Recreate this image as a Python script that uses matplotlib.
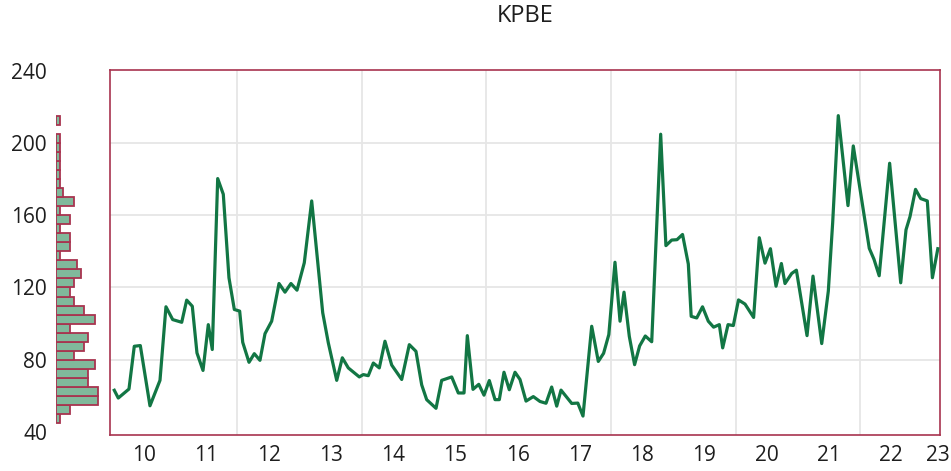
import matplotlib
matplotlib.use("Agg")
import matplotlib.pyplot as plt

# ---- data -----------------------------------------------------------
title = "KPBE"

dates = [2010.021, 2010.085, 2010.257, 2010.342, 2010.439, 2010.594, 2010.755, 2010.851,
         2010.959, 2011.104, 2011.184, 2011.274, 2011.349, 2011.446, 2011.531, 2011.595,
         2011.682, 2011.772, 2011.863, 2011.949, 2012.035, 2012.084, 2012.185, 2012.270,
         2012.361, 2012.442, 2012.549, 2012.667, 2012.763, 2012.859, 2012.956, 2013.073,
         2013.192, 2013.369, 2013.459, 2013.594, 2013.684, 2013.780, 2013.957, 2014.021,
         2014.101, 2014.182, 2014.278, 2014.369, 2014.477, 2014.638, 2014.760, 2014.867,
         2014.959, 2015.039, 2015.189, 2015.280, 2015.441, 2015.547, 2015.639, 2015.692,
         2015.783, 2015.876, 2015.960, 2016.045, 2016.137, 2016.206, 2016.281, 2016.366,
         2016.458, 2016.538, 2016.635, 2016.752, 2016.859, 2016.956, 2017.047, 2017.128,
         2017.197, 2017.369, 2017.467, 2017.550, 2017.690, 2017.796, 2017.881, 2017.965,
         2018.064, 2018.145, 2018.209, 2018.294, 2018.379, 2018.460, 2018.551, 2018.654,
         2018.798, 2018.882, 2018.975, 2019.060, 2019.149, 2019.242, 2019.288, 2019.377,
         2019.470, 2019.563, 2019.648, 2019.740, 2019.794, 2019.880, 2019.965, 2020.048,
         2020.153, 2020.291, 2020.382, 2020.474, 2020.561, 2020.651, 2020.737, 2020.795,
         2020.903, 2020.978, 2021.149, 2021.245, 2021.385, 2021.491, 2021.561, 2021.651,
         2021.807, 2021.892, 2022.149, 2022.225, 2022.308, 2022.476, 2022.654, 2022.739,
         2022.803, 2022.892, 2022.975, 2023.081, 2023.163, 2023.250]

values = [63, 58.7, 63.7, 87.4, 87.8, 54.4, 68.5, 109.3, 102.2, 100.7, 113, 109.6,
          83.7, 74, 99.4, 85.6, 180.4, 171.7, 125.4, 107.8, 106.9, 89.6, 78.5, 83.3,
          79.6, 94.4, 101.3, 122.2, 117.4, 122.2, 118.5, 133.7, 168, 106, 89.3, 68.5,
          81, 75.4, 70.4, 71.7, 71.1, 78.1, 75.4, 90.2, 77, 69, 88.3, 84.6,
          66, 57.8, 53, 68.5, 70.4, 61.5, 61.5, 93.3, 63.5, 66.3, 60.3, 68.4,
          57.8, 57.8, 73, 63.3, 73, 69, 57, 59.5, 56.8, 55.8, 64.8, 54.2,
          63.1, 55.7, 55.9, 48.7, 98.5, 79, 83.5, 93.9, 134, 101.3, 117.4, 92.9,
          77.2, 87.6, 93.1, 89.9, 205, 143.2, 146.3, 146.5, 149.4, 133, 104, 103.1,
          109.3, 101.3, 98, 99.4, 86.5, 99.4, 98.9, 113.1, 110.8, 103.4, 147.6, 133.5,
          141.5, 120.7, 133.3, 122.2, 127.8, 129.6, 93.3, 126.3, 88.9, 118, 156, 215.3,
          165.4, 198.5, 141.7, 135.6, 126.5, 188.9, 122.6, 152, 159.3, 174.4, 169.3, 168,
          125.4, 141.5]

# histogram (bin lower edges, width 5) and counts
hist_bins = [45, 50, 55, 60, 65, 70, 75, 80, 85, 90, 95, 100, 105, 110, 115, 120, 125,
             130, 135, 140, 145, 150, 155, 160, 165, 170, 175, 180, 185, 190, 195, 200,
             205, 210]
hist_counts = [1, 4, 12, 12, 9, 9, 11, 5, 8, 9, 4, 11, 8, 5, 4, 5, 7,
               6, 1, 4, 4, 1, 4, 1, 5, 2, 1, 1, 1, 1, 1, 1, 0, 1]
bin_width = 5

year_labels = ["10", "11", "12", "13", "14", "15", "16", "17", "18", "19", "20", "21", "22", "23"]
first_year = 2010
y_ticks = [40, 80, 120, 160, 200, 240]
grid_years = [2012, 2014, 2016, 2018, 2020, 2022]

# ---- style ----------------------------------------------------------
plt.rcParams['font.family'] = ['Open Sans', 'DejaVu Sans']
line_color = '#127644'
frame_color = '#a8344f'
hist_fill = '#80b99b'
grid_color = '#e6e6e6'
text_color = '#1e1e1e'

W, H = 951, 471
fig = plt.figure(figsize=(W / 100, H / 100), dpi=100)

ylim = (38.2, 240.6)
xlim = (2009.952, 2023.285)

ax = fig.add_axes([110 / W, 1 - 435 / H, 830 / W, 365 / H])
hax = fig.add_axes([56 / W, 1 - 435 / H, 52 / W, 365 / H])

# main line
ax.plot(dates, values, color=line_color, lw=2.3, solid_joinstyle='round', zorder=3)
ax.set_xlim(*xlim)
ax.set_ylim(*ylim)

# x ticks: labels centred in each year
xt = [first_year + i + 0.5 for i in range(len(year_labels))]
xt[-1] = min(xt[-1], xlim[1] - 0.04)
ax.set_xticks(xt)
ax.set_xticklabels(year_labels)
ax.set_xticks(grid_years, minor=True)
ax.tick_params(axis='x', which='both', length=0, pad=7.5, labelsize=15, labelcolor=text_color)
ax.grid(which='minor', axis='x', color=grid_color, lw=1.3, zorder=0)

ax.set_yticks([80, 120, 160, 200])
ax.tick_params(axis='y', length=0, labelleft=False)
ax.grid(which='major', axis='y', color=grid_color, lw=1.3, zorder=0)

for s in ax.spines.values():
    s.set_color(frame_color)
    s.set_linewidth(1.2)

# side histogram
bins_nz = [b for b, c in zip(hist_bins, hist_counts) if c > 0]
counts_nz = [c for c in hist_counts if c > 0]
hax.barh(bins_nz, counts_nz, height=bin_width, align='edge', color=hist_fill,
         edgecolor=frame_color, linewidth=1.3)
hax.set_ylim(*ylim)
hax.set_xlim(0, 14.8)
hax.set_xticks([])
hax.set_yticks(y_ticks)
hax.tick_params(axis='y', length=0, pad=6.5, labelsize=15, labelcolor=text_color)
for s in hax.spines.values():
    s.set_visible(False)
hax.patch.set_alpha(0)

fig.text(525 / W, 1 - 16 / H, title, ha='center', va='center', fontsize=17, color=text_color)

fig.savefig("out.png", dpi=100)
